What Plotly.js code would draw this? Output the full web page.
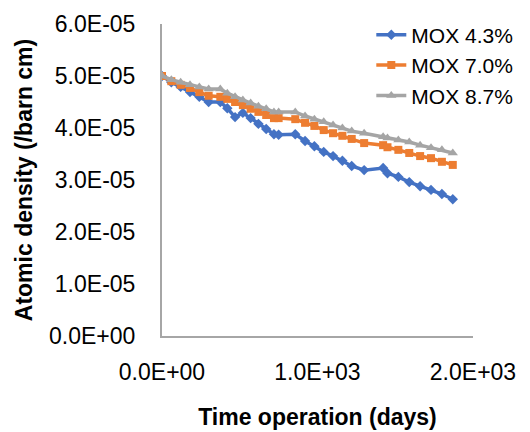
<!DOCTYPE html>
<html>
<head>
<meta charset="utf-8">
<script src="https://cdn.plot.ly/plotly-3.0.1.min.js"></script>
<style>html,body{margin:0;padding:0;background:#fff;}#chart{width:530px;height:432px;}</style>
</head>
<body>
<div id="chart"></div>
<script>
// Time operation (days)
const days = [0, 60, 120, 180, 240, 300, 375, 420, 470, 520, 570, 620, 670, 720, 750, 857, 920, 980, 1040, 1100, 1160, 1220, 1300, 1422, 1450, 1520, 1590, 1660, 1730, 1800, 1870];
// Atomic density (/barn cm), in units of 1E-05
const mox43 = [5.00, 4.88, 4.79, 4.69, 4.60, 4.50, 4.50, 4.38, 4.21, 4.29, 4.19, 4.08, 3.98, 3.88, 3.87, 3.88, 3.75, 3.65, 3.54, 3.46, 3.37, 3.27, 3.19, 3.23, 3.13, 3.06, 2.96, 2.88, 2.81, 2.73, 2.63];
const mox70 = [5.00, 4.90, 4.83, 4.77, 4.69, 4.62, 4.60, 4.56, 4.50, 4.44, 4.37, 4.31, 4.25, 4.19, 4.19, 4.17, 4.10, 4.04, 3.96, 3.90, 3.85, 3.79, 3.71, 3.67, 3.63, 3.58, 3.52, 3.46, 3.42, 3.35, 3.29];
const mox87 = [5.00, 4.93, 4.88, 4.83, 4.79, 4.75, 4.75, 4.67, 4.60, 4.54, 4.48, 4.42, 4.37, 4.31, 4.31, 4.31, 4.23, 4.17, 4.12, 4.06, 4.00, 3.94, 3.90, 3.83, 3.81, 3.77, 3.73, 3.67, 3.62, 3.58, 3.52];
const seriesNames = ["MOX 4.3%", "MOX 7.0%", "MOX 8.7%"];
const xTickVals = [0, 1000, 2000];
const xTickText = ["0.0E+00", "1.0E+03", "2.0E+03"];
const yTickVals = [0, 1e-5, 2e-5, 3e-5, 4e-5, 5e-5, 6e-5];
const yTickText = ["0.0E+00", "1.0E-05", "2.0E-05", "3.0E-05", "4.0E-05", "5.0E-05", "6.0E-05"];

const scale = v => v.map(d => d * 1e-5);
const colors = ["#4472C4", "#ED7D31", "#A5A5A5"];
const symbols = ["diamond", "square", "triangle-up"];
const sizes = [8, 8, 9];
const ys = [mox43, mox70, mox87];

const traces = ys.map((y, i) => ({
  type: "scatter",
  mode: "lines+markers",
  name: seriesNames[i],
  x: days,
  y: scale(y),
  line: {color: colors[i], width: 3.5},
  marker: {symbol: symbols[i], size: sizes[i], color: colors[i]}
}));

const font = "Liberation Sans, Arial, sans-serif";
const layout = {
  width: 530, height: 432,
  margin: {l: 162, r: 53, t: 24, b: 96, pad: 0},
  paper_bgcolor: "#fff", plot_bgcolor: "#fff",
  font: {family: font, size: 23, color: "#000"},
  showlegend: true,
  legend: {x: 0.673, y: 1.03, xanchor: "left", yanchor: "top", bgcolor: "rgba(0,0,0,0)", font: {size: 21}, tracegroupgap: 0},
  xaxis: {
    range: [0, 2000], tickvals: xTickVals, ticktext: xTickText,
    showgrid: false, zeroline: false, showline: true, linecolor: "#A6A6A6", linewidth: 2,
    ticks: "", ticklabelstandoff: 14,
    title: {text: "<b>Time operation (days)</b>", font: {size: 23}, standoff: 25}
  },
  yaxis: {
    range: [0, 6e-5], tickvals: yTickVals, ticktext: yTickText,
    showgrid: false, zeroline: false, showline: true, linecolor: "#A6A6A6", linewidth: 2,
    ticks: "", ticklabelstandoff: 20,
    title: {text: "<b>Atomic density (/barn cm)</b>", font: {size: 23}, standoff: 10}
  }
};
Plotly.newPlot("chart", traces, layout, {displayModeBar: false, staticPlot: true});
</script>
</body>
</html>
